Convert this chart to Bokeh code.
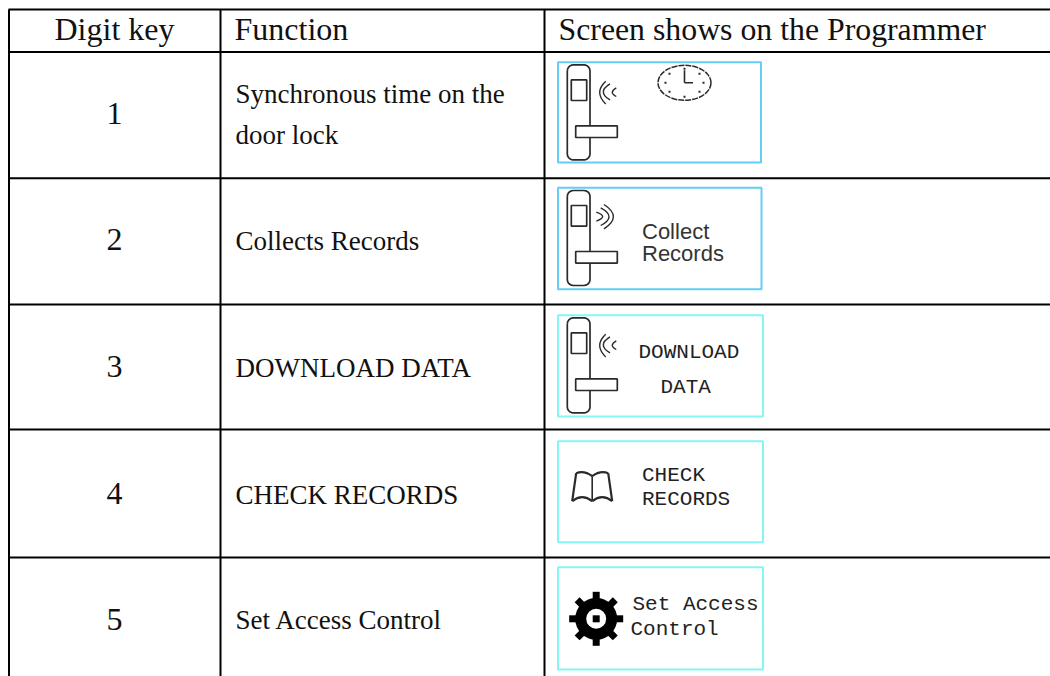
from bokeh.plotting import figure
from bokeh.models import Range1d
from bokeh.core.properties import value
from bokeh.embed import file_html
from bokeh.resources import INLINE
import numpy as np

# ---- content ----
headers = ["Digit key", "Function", "Screen shows on the Programmer"]
digit_keys = ["1", "2", "3", "4", "5"]
function_lines = [["Synchronous time on the", "door lock"], ["Collects Records"],
                  ["DOWNLOAD DATA"], ["CHECK RECORDS"], ["Set Access Control"]]
sans_screen = ["Collect", "Records"]
mono_screen = ["DOWNLOAD", "DATA", "CHECK", "RECORDS", "Set Access", "Control"]

# ---- layout (page pixels of the reference) ----
W, H = 1050, 676
h_rules = [9, 51.5, 177.7, 304, 429, 557]
v_rules = [8.5, 220, 544]
digit_base = [124, 250, 377, 504, 630]
func_base = [[102, 143], [249], [376], [503], [628]]
boxes = [(557.5, 61.7, 760.5, 162, "#62cdf6"), (557.5, 187.3, 761, 288.7, "#62cdf6"),
         (557.5, 314.7, 762.5, 416, "#86f6f2"), (557.5, 440.7, 762.5, 541.7, "#86f6f2"),
         (557.5, 566.7, 762.5, 669, "#86f6f2")]
sans_pos = [(641.5, 238.3), (641.5, 260)]
mono_pos = [(638, 359.3), (660, 394), (641.5, 481.7), (641.5, 506), (632, 611), (630, 635.7)]
INK = "#2a2a2a"
BASE_SHIFT = 0.33

p = figure(width=W, height=H, x_range=Range1d(0, W), y_range=Range1d(H, 0),
           output_backend="svg", toolbar_location=None, min_border=0,
           background_fill_color="white", border_fill_color="white", outline_line_color=None)
p.axis.visible = False
p.grid.visible = False

# table rules
p.segment([8] * len(h_rules), h_rules, [W] * len(h_rules), h_rules, line_color="black", line_width=2)
p.segment(v_rules, [9] * 3, v_rules, [H] * 3, line_color="black", line_width=2)

serif = value("Liberation Serif")


def txt(x, y, s, font, size, color="#111111", align="left", weight="normal"):
    p.text([x], [y - BASE_SHIFT * size], text=[s], text_font=font, text_font_size=value(f"{size}px"),
           text_color=color, text_align=align, text_baseline="alphabetic", text_font_style=weight)


txt(114, 39, headers[0], serif, 32, align="center")
txt(234, 39, headers[1], serif, 32)
txt(558, 39, headers[2], serif, 31.8)
for key, y in zip(digit_keys, digit_base):
    txt(114, y, key, serif, 32, align="center")
for lines, ys in zip(function_lines, func_base):
    for s, y in zip(lines, ys):
        txt(235, y, s, serif, 27)

# screen frames
for x0, y0, x1, y1, c in boxes:
    p.quad(left=[x0], right=[x1], top=[y0], bottom=[y1], fill_color="white", line_color=c, line_width=2)


def rounded(x0, y0, x1, y1, r):
    t = np.linspace(0, np.pi / 2, 6)
    xs = np.concatenate([x0 + r - r * np.cos(t), x1 - r + r * np.sin(t), x1 - r + r * np.cos(t), x0 + r - r * np.sin(t), [x0]])
    ys = np.concatenate([y0 + r - r * np.sin(t), y0 + r - r * np.cos(t), y1 - r + r * np.sin(t), y1 - r + r * np.cos(t), [y0 + r]])
    return xs, ys


def lock(box, waves_left):
    ox, oy = box[0], box[1]
    xs, ys = rounded(ox + 9.3, oy + 2.7, ox + 32, oy + 97.7, 6)
    p.line(xs, ys, line_color=INK, line_width=1.7)
    p.quad(left=[ox + 13.3], right=[ox + 28.7], top=[oy + 17.7], bottom=[oy + 38.3],
           fill_color="white", line_color=INK, line_width=1.7)
    p.quad(left=[ox + 17.7], right=[ox + 59.3], top=[oy + 63.7], bottom=[oy + 75.3],
           fill_color="white", line_color=INK, line_width=1.7)
    if waves_left:
        arcs = [(47.7, 19, 41.7, 35.7), (52, 21.7, 37.7, 38.7), (58.3, 25.7, 34.3, 50.3)]
    else:
        arcs = [(46, 16.7, 41, 64.7), (42.7, 20, 37.7, 59.3), (38.3, 24.3, 33.3, 51)]
    for ax, ya, yb, ctrl in arcs:
        p.quadratic([ox + ax], [oy + ya], [ox + ax], [oy + yb], [ox + ctrl], [oy + (ya + yb) / 2],
                    line_color=INK, line_width=1.4)


lock(boxes[0], True)
lock(boxes[1], False)
lock(boxes[2], True)

# clock
cx, cy = 684, 82.3
p.ellipse([cx], [cy], width=[53], height=[35], fill_color="white", line_color=INK, line_width=1.5, line_dash="6 1")
p.segment([cx, cx], [cy, cy], [cx, cx + 8.5], [cy - 12.5, cy], line_color=INK, line_width=1.6)
tick_dx = [0, 0, -19, 19, -15, 15, -15, 15]
tick_dy = [-14, 14, 0, 0, -9, -9, 9, 9]
p.rect([cx + d for d in tick_dx], [cy + d for d in tick_dy], width=2, height=2, fill_color=INK, line_color=None)

# book
bx, by = 591.7, 471.7
for s in (-1, 1):
    p.quadratic([bx], [by + 4], [bx + s * 16], [by + 1], [bx + s * 8], [by - 2], line_color=INK, line_width=2.2)
    p.line([bx + s * 16, bx + s * 20], [by + 1, by + 29], line_color=INK, line_width=2.2)
    p.quadratic([bx + s * 20], [by + 29], [bx], [by + 29], [bx + s * 10], [by + 21], line_color=INK, line_width=2.2)
p.line([bx, bx], [by + 4, by + 29], line_color=INK, line_width=1.6)

# gear
gx, gy = 595.7, 618.3
ang = np.arange(8) * np.pi / 4
p.rect(gx + 23.5 * np.cos(ang), gy + 23.5 * np.sin(ang), width=7, height=7, angle=ang, fill_color="black", line_color=None)
p.circle([gx], [gy], radius=21, fill_color="black", line_color=None)
p.circle([gx], [gy], radius=10, fill_color="white", line_color=None)
p.rect([gx], [gy], width=7, height=7, fill_color="black", line_color=None)

# screen labels
for s, (x, y) in zip(sans_screen, sans_pos):
    txt(x, y, s, value("Liberation Sans"), 22, color="#333333")
for s, (x, y) in zip(mono_screen, mono_pos):
    txt(x, y, s, value("Liberation Mono"), 21, color="#222222")

open("out.html", "w").write(file_html(p, INLINE))
